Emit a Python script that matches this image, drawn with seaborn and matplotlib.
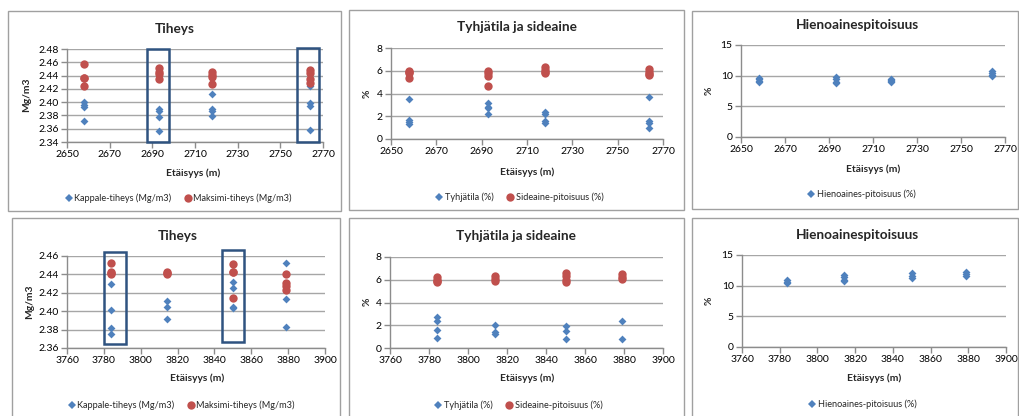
import numpy as np
import pandas as pd
import matplotlib
matplotlib.use("Agg")
import matplotlib.pyplot as plt
from matplotlib.patches import Rectangle
from matplotlib.lines import Line2D
import seaborn as sns

sns.set_theme(style="white")
plt.rcParams['font.family'] = ['Lato', 'DejaVu Sans']

# ---------------- data ----------------
# top row (2650-2770 m)
kappale_top_x = [2658, 2658, 2658, 2658, 2693, 2693, 2693, 2693, 2718, 2718, 2718, 2718, 2764, 2764, 2764, 2764]
kappale_top_y = [2.400, 2.396, 2.392, 2.372, 2.390, 2.386, 2.377, 2.357, 2.413, 2.389, 2.387, 2.379, 2.425, 2.398, 2.394, 2.358]
maksimi_top_x = [2658, 2658, 2658, 2658, 2693, 2693, 2693, 2693, 2718, 2718, 2718, 2718, 2764, 2764, 2764, 2764]
maksimi_top_y = [2.458, 2.437, 2.436, 2.424, 2.452, 2.445, 2.442, 2.435, 2.446, 2.441, 2.438, 2.427, 2.449, 2.444, 2.435, 2.429]

tyhja_top_x = [2658, 2658, 2658, 2658, 2693, 2693, 2693, 2693, 2718, 2718, 2718, 2718, 2764, 2764, 2764, 2764]
tyhja_top_y = [3.5, 1.7, 1.5, 1.3, 3.2, 2.8, 2.7, 2.2, 2.4, 2.2, 1.6, 1.4, 3.7, 1.6, 1.45, 1.0]
side_top_x = [2658, 2658, 2658, 2658, 2693, 2693, 2693, 2693, 2718, 2718, 2718, 2718, 2764, 2764, 2764, 2764]
side_top_y = [6.0, 5.9, 5.8, 5.4, 6.0, 5.8, 5.5, 4.7, 6.3, 6.05, 5.9, 5.8, 6.15, 5.9, 5.75, 5.6]

hieno_top_x = [2658, 2658, 2658, 2658, 2693, 2693, 2693, 2693, 2718, 2718, 2718, 2718, 2764, 2764, 2764, 2764]
hieno_top_y = [9.7, 9.4, 9.1, 8.9, 9.8, 9.5, 9.0, 8.8, 9.5, 9.3, 9.1, 8.9, 10.7, 10.4, 10.1, 9.9]

# bottom row (3760-3900 m)
kappale_bot_x = [3784, 3784, 3784, 3784, 3814, 3814, 3814, 3850, 3850, 3850, 3850, 3879, 3879, 3879]
kappale_bot_y = [2.430, 2.401, 2.382, 2.375, 2.411, 2.4045, 2.392, 2.432, 2.425, 2.405, 2.404, 2.452, 2.413, 2.383]
maksimi_bot_x = [3784, 3784, 3784, 3784, 3814, 3814, 3814, 3850, 3850, 3850, 3850, 3879, 3879, 3879, 3879]
maksimi_bot_y = [2.452, 2.4425, 2.441, 2.440, 2.4425, 2.441, 2.440, 2.451, 2.443, 2.4425, 2.414, 2.440, 2.431, 2.427, 2.423]

tyhja_bot_x = [3784, 3784, 3784, 3784, 3814, 3814, 3814, 3850, 3850, 3850, 3879, 3879]
tyhja_bot_y = [2.7, 2.4, 1.6, 0.9, 2.0, 1.45, 1.25, 1.9, 1.5, 0.82, 2.4, 0.82]
side_bot_x = [3784, 3784, 3784, 3784, 3814, 3814, 3814, 3850, 3850, 3850, 3850, 3879, 3879, 3879]
side_bot_y = [6.2, 6.0, 5.9, 5.8, 6.3, 6.05, 5.9, 6.6, 6.3, 6.0, 5.8, 6.5, 6.25, 6.05]

hieno_bot_x = [3784, 3784, 3784, 3814, 3814, 3814, 3814, 3850, 3850, 3850, 3879, 3879, 3879]
hieno_bot_y = [10.9, 10.6, 10.4, 11.8, 11.4, 11.0, 10.7, 12.1, 11.6, 11.3, 12.2, 11.9, 11.5]

# highlight boxes (x0, x1, y0, y1) in data units
hl_top = [(2687.5, 2698.0, 2.340, 2.4795), (2758.0, 2768.0, 2.3405, 2.4815)]
hl_bot = [(3780.0, 3792.0, 2.3645, 2.4647), (3844.0, 3856.0, 2.3663, 2.4665)]

titles = ["Tiheys", "Tyhjätila ja sideaine", "Hienoainespitoisuus"]
label_kappale = "Kappale-tiheys (Mg/m3)"
label_maksimi = "Maksimi-tiheys (Mg/m3)"
label_tyhja = "Tyhjätila (%)"
label_side = "Sideaine-pitoisuus (%)"
label_hieno = "Hienoaines-pitoisuus (%)"
xlabel = "Etäisyys (m)"

BLUE = "#4F81BD"
RED = "#C0504D"
GRID = "#A6A6A6"
AXC = "#8C8C8C"

W, H = 1020, 416
fig = plt.figure(figsize=(W / 100, H / 100), dpi=100)
fig.patch.set_facecolor("white")


def fx(px):
    return px / W


def fy(py):
    return 1 - py / H


# chart area borders (px): left, top, right, bottom
borders = [(8, 11, 341, 211), (349, 10, 684, 210), (692, 11, 1018, 209),
           (12, 218, 340, 420), (349, 218, 684, 420), (692, 218, 1018, 420)]
for (l, t, r, b) in borders:
    fig.patches.append(Rectangle((fx(l), fy(b)), fx(r) - fx(l), fy(t) - fy(b),
                                 transform=fig.transFigure, fill=False,
                                 edgecolor="#A0A0A0", linewidth=1.0, zorder=0))

# plot areas (px): left, top, right, bottom
areas = [(67, 49, 323, 142), (391, 48, 663, 139), (741, 45, 1005, 137),
         (67, 256, 325, 348), (390, 257, 663, 348), (742, 255, 1006, 347)]

# text positions (px): title, xlabel, ylabel, legend centres
title_pos = [(175, 29), (517, 27), (857, 25), (178, 236), (516, 236), (857, 235)]
xl_pos = [(193, 173), (527, 172), (873, 169), (197, 378), (527, 378), (874, 378)]
yl_pos = [(27, 95), (367, 94), (709, 91), (30, 302), (367, 302), (709, 301)]
lg_pos = [(178, 198), (519, 197), (861, 194), (181, 405), (518, 405), (862, 404)]

panels = [
    dict(series=[(kappale_top_x, kappale_top_y, label_kappale, "D", BLUE),
                 (maksimi_top_x, maksimi_top_y, label_maksimi, "o", RED)],
         ylim=(2.34, 2.48), yticks=np.arange(2.34, 2.481, 0.02), yfmt="{:.2f}", ylabel="Mg/m3",
         xlim=(2650, 2770), title=titles[0], hl=hl_top),
    dict(series=[(tyhja_top_x, tyhja_top_y, label_tyhja, "D", BLUE),
                 (side_top_x, side_top_y, label_side, "o", RED)],
         ylim=(0, 8), yticks=np.arange(0, 9, 2), yfmt="{:.0f}", ylabel="%",
         xlim=(2650, 2770), title=titles[1], hl=[]),
    dict(series=[(hieno_top_x, hieno_top_y, label_hieno, "D", BLUE)],
         ylim=(0, 15), yticks=np.arange(0, 16, 5), yfmt="{:.0f}", ylabel="%",
         xlim=(2650, 2770), title=titles[2], hl=[]),
    dict(series=[(kappale_bot_x, kappale_bot_y, label_kappale, "D", BLUE),
                 (maksimi_bot_x, maksimi_bot_y, label_maksimi, "o", RED)],
         ylim=(2.36, 2.46), yticks=np.arange(2.36, 2.461, 0.02), yfmt="{:.2f}", ylabel="Mg/m3",
         xlim=(3760, 3900), title=titles[0], hl=hl_bot),
    dict(series=[(tyhja_bot_x, tyhja_bot_y, label_tyhja, "D", BLUE),
                 (side_bot_x, side_bot_y, label_side, "o", RED)],
         ylim=(0, 8), yticks=np.arange(0, 9, 2), yfmt="{:.0f}", ylabel="%",
         xlim=(3760, 3900), title=titles[1], hl=[]),
    dict(series=[(hieno_bot_x, hieno_bot_y, label_hieno, "D", BLUE)],
         ylim=(0, 15), yticks=np.arange(0, 16, 5), yfmt="{:.0f}", ylabel="%",
         xlim=(3760, 3900), title=titles[2], hl=[]),
]

TICK_FS = 7.5
for i, p in enumerate(panels):
    l, t, r, b = areas[i]
    ax = fig.add_axes([fx(l), fy(b), fx(r) - fx(l), fy(t) - fy(b)])
    ax.set_facecolor("none")
    handles = []
    for (xs, ys, lab, mk, col) in p["series"]:
        df = pd.DataFrame({"x": xs, "y": ys})
        size = 16 if mk == "D" else 36
        sns.scatterplot(data=df, x="x", y="y", ax=ax, marker=mk, color=col,
                        s=size, linewidth=0, legend=False, zorder=3, clip_on=False)
        handles.append(Line2D([], [], linestyle="none", marker=mk, color=col,
                              markersize=4.2 if mk == "D" else 6.0, markeredgewidth=0, label=lab))
    ax.set_xlim(*p["xlim"])
    ax.set_ylim(*p["ylim"])
    ax.set_xticks(np.arange(p["xlim"][0], p["xlim"][1] + 1, 20))
    ax.set_xticklabels([str(v) for v in np.arange(p["xlim"][0], p["xlim"][1] + 1, 20)])
    ax.set_yticks(p["yticks"])
    ax.set_yticklabels([p["yfmt"].format(v) for v in p["yticks"]])
    ax.grid(False)
    for v in p["yticks"]:
        ax.axhline(v, color=GRID, linewidth=1.0, zorder=1)
    for s in ["top", "right"]:
        ax.spines[s].set_visible(False)
    for s in ["left", "bottom"]:
        ax.spines[s].set_color(AXC)
        ax.spines[s].set_linewidth(1.0)
        ax.spines[s].set_zorder(2)
    ax.tick_params(axis="both", which="both", direction="out", length=4, width=1.0,
                   color=AXC, labelsize=TICK_FS, labelcolor="#000000", pad=2)
    ax.tick_params(axis="x", bottom=True)
    ax.tick_params(axis="y", left=True)
    ax.set_xlabel(xlabel, fontsize=7.4, fontweight="bold", va="center")
    ax.xaxis.set_label_coords(fx(xl_pos[i][0]), fy(xl_pos[i][1]), transform=fig.transFigure)
    ax.set_ylabel(p["ylabel"], fontsize=7.4, fontweight="bold", va="center")
    ax.yaxis.set_label_coords(fx(yl_pos[i][0]), fy(yl_pos[i][1]), transform=fig.transFigure)
    fig.text(fx(title_pos[i][0]), fy(title_pos[i][1]), p["title"], fontsize=9.8,
             fontweight="bold", ha="center", va="center")
    for (x0, x1, y0, y1) in p["hl"]:
        ax.add_patch(Rectangle((x0, y0), x1 - x0, y1 - y0, fill=False, edgecolor="#2F5380",
                               linewidth=1.8, clip_on=False, zorder=4))
    ax.legend(handles=handles, loc="center", bbox_to_anchor=(fx(lg_pos[i][0]), fy(lg_pos[i][1])),
              bbox_transform=fig.transFigure, ncol=len(handles), frameon=False,
              fontsize=6.6, handletextpad=0.1, columnspacing=1.3, handlelength=1.0,
              borderpad=0, borderaxespad=0)

fig.savefig("out.png", dpi=100, facecolor="white")
